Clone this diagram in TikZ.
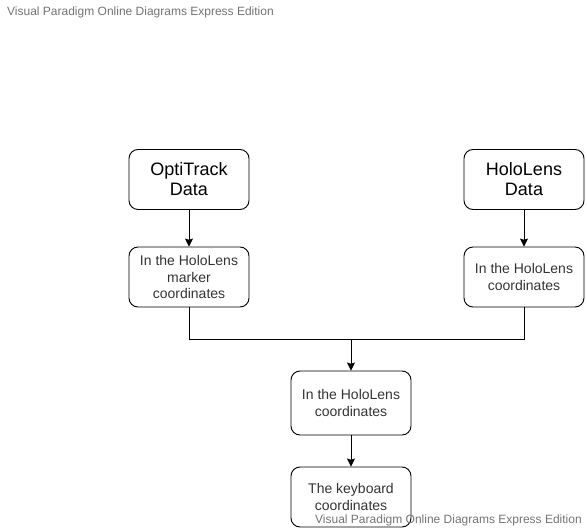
\documentclass[tikz,border=0pt]{standalone}
\usepackage{fontspec}
\setmainfont{Liberation Sans}
\usetikzlibrary{arrows.meta}

\begin{document}
\begin{tikzpicture}[x=1pt,y=-1pt]
        \tikzset{box/.style = {shape=rectangle,draw,rounded corners=9pt,line width=0.9pt,
                minimum width=120pt,minimum height=60pt,align=center,inner sep=2pt}}
        \tikzset{bigtext/.style = {font=\fontsize{18}{20}\selectfont}}
        \tikzset{smalltext/.style = {font=\fontsize{14}{16.5}\selectfont,text=black!80}}
        \tikzset{edge/.style = {-{Stealth[length=8pt,width=8pt,inset=1.2pt]},line width=0.9pt}}
        \tikzset{wmark/.style = {font=\fontsize{12}{14}\selectfont,text=black!55,inner sep=0pt}}
        \useasboundingbox (0,0) rectangle (587,530);
        % watermarks
        \node[wmark,anchor=base west] (wtop) at (7,16) {Visual Paradigm Online Diagrams Express Edition};
        % boxes
        \node[box,bigtext] (opti) at (189,179.5) {OptiTrack\\Data};
        \node[box,smalltext] (marker) at (189,277) {In the HoloLens\\marker\\coordinates};
        \node[box,bigtext] (holo) at (524,179.5) {HoloLens\\Data};
        \node[box,smalltext] (hlcoord) at (524,277) {In the HoloLens\\coordinates};
        \node[box,smalltext,minimum height=64pt] (mid) at (351,403) {In the HoloLens\\coordinates};
        \node[box,smalltext] (kbd) at (351,497) {The keyboard\\coordinates};
        \coordinate (join) at (351,339);
        % edges
        \draw[edge] (opti) -- (marker);
        \draw[edge] (holo) -- (hlcoord);
        \draw[line width=0.9pt] (hlcoord.south) |- (join);
        \draw[edge] (marker.south) |- (join) -- (mid.north);
        \draw[edge] (mid) -- (kbd);
        \node[wmark,anchor=base west] (wbot) at (315,523) {Visual Paradigm Online Diagrams Express Edition};
\end{tikzpicture}
\end{document}
